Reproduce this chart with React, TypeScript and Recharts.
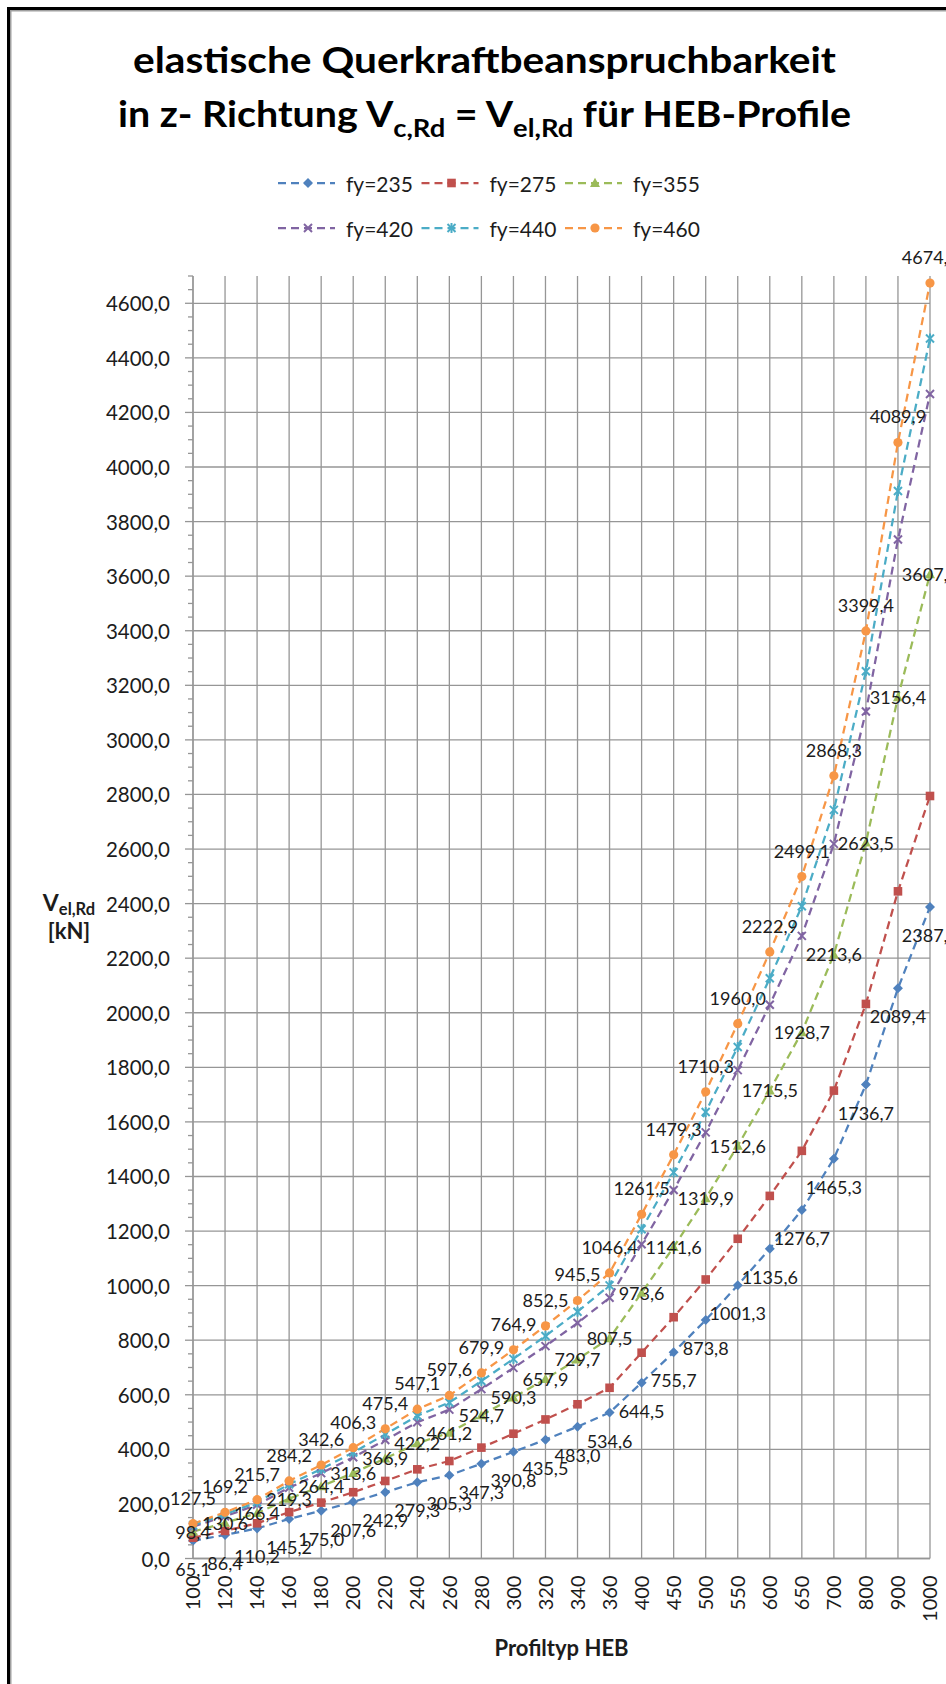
import React from 'react';
import { LineChart, Line, XAxis, YAxis, CartesianGrid, LabelList } from 'recharts';

// ---------- data ----------
const categories = ['100', '120', '140', '160', '180', '200', '220', '240', '260', '280', '300', '320', '340', '360', '400', '450', '500', '550', '600', '650', '700', '800', '900', '1000'];

const fy235 = [65.1, 86.4, 110.2, 145.2, 175.0, 207.6, 242.9, 279.3, 305.3, 347.3, 390.8, 435.5, 483.0, 534.6, 644.5, 755.7, 873.8, 1001.3, 1135.6, 1276.7, 1465.3, 1736.7, 2089.4, 2387.9];
const fy275 = [76.2, 101.1, 129.0, 169.9, 204.8, 242.9, 284.2, 326.8, 357.3, 406.4, 457.3, 509.6, 565.2, 625.6, 754.2, 884.3, 1022.5, 1171.7, 1328.9, 1494.0, 1714.7, 2032.3, 2445.0, 2794.4];
const fy355 = [98.4, 130.6, 166.4, 219.3, 264.4, 313.6, 366.9, 422.2, 461.2, 524.7, 590.3, 657.9, 729.7, 807.5, 973.6, 1141.6, 1319.9, 1512.6, 1715.5, 1928.7, 2213.6, 2623.5, 3156.4, 3607.3];
const fy420 = [116.3, 154.4, 197.0, 259.5, 312.8, 371.0, 434.1, 499.2, 545.6, 620.7, 698.5, 778.3, 863.2, 955.5, 1151.9, 1350.6, 1561.7, 1789.6, 2029.6, 2281.8, 2618.8, 3103.9, 3734.3, 4267.8];
const fy440 = [121.9, 161.8, 206.3, 271.9, 327.7, 388.7, 454.8, 522.9, 571.6, 650.3, 731.7, 815.4, 904.3, 1000.9, 1206.7, 1414.9, 1636.0, 1874.8, 2126.2, 2390.4, 2743.5, 3251.7, 3912.1, 4471.0];
const fy460 = [127.5, 169.2, 215.7, 284.2, 342.6, 406.3, 475.4, 547.1, 597.6, 679.9, 764.9, 852.5, 945.5, 1046.4, 1261.5, 1479.3, 1710.3, 1960.0, 2222.9, 2499.1, 2868.3, 3399.4, 4089.9, 4674.2];

const yMajorTicks = [0, 200, 400, 600, 800, 1000, 1200, 1400, 1600, 1800, 2000, 2200, 2400, 2600, 2800, 3000, 3200, 3400, 3600, 3800, 4000, 4200, 4400, 4600];
const yMax = 4700;
const yMinorStep = 50;

const seriesInfo = [
  { key: 'fy235', name: 'fy=235', color: '#4F81BD', shape: 'diamond' },
  { key: 'fy275', name: 'fy=275', color: '#C0504D', shape: 'square' },
  { key: 'fy355', name: 'fy=355', color: '#9BBB59', shape: 'triangle' },
  { key: 'fy420', name: 'fy=420', color: '#8064A2', shape: 'x' },
  { key: 'fy440', name: 'fy=440', color: '#4BACC6', shape: 'star' },
  { key: 'fy460', name: 'fy=460', color: '#F79646', shape: 'circle' },
];

// which series carry data labels, and where
const labelSeries = [
  { key: 'fy235', place: 'below' },
  { key: 'fy355', place: 'center' },
  { key: 'fy460', place: 'above' },
];

const data = categories.map((c, i) => ({
  cat: c,
  fy235: fy235[i],
  fy275: fy275[i],
  fy355: fy355[i],
  fy420: fy420[i],
  fy440: fy440[i],
  fy460: fy460[i],
}));

const yAllTicks: number[] = [];
for (let v = 0; v <= yMax; v += yMinorStep) yAllTicks.push(v);

// ---------- styles ----------
const FONT = "Lato, 'Open Sans', 'DejaVu Sans', sans-serif";
const TEXT = '#1c1c1c';
const GRID = '#969696';
const GRID_W = 1.3;
const DASH = '8 5';
const LINE_W = 2.25;

const fmt = (v: number) => Number(v).toFixed(1).replace('.', ',');

function Marker({ shape, color, cx, cy }: { shape: string; color: string; cx: number; cy: number }) {
  switch (shape) {
    case 'diamond':
      return <path d={`M${cx},${cy - 5}L${cx + 5},${cy}L${cx},${cy + 5}L${cx - 5},${cy}Z`} fill={color} />;
    case 'square':
      return <rect x={cx - 4.3} y={cy - 4.3} width={8.6} height={8.6} fill={color} />;
    case 'triangle':
      return <path d={`M${cx},${cy - 5.2}L${cx + 5},${cy + 4}L${cx - 5},${cy + 4}Z`} fill={color} />;
    case 'x':
      return (
        <g stroke={color} strokeWidth={2}>
          <line x1={cx - 4} y1={cy - 4} x2={cx + 4} y2={cy + 4} />
          <line x1={cx - 4} y1={cy + 4} x2={cx + 4} y2={cy - 4} />
        </g>
      );
    case 'star':
      return (
        <g stroke={color} strokeWidth={2}>
          <line x1={cx - 4} y1={cy - 4} x2={cx + 4} y2={cy + 4} />
          <line x1={cx - 4} y1={cy + 4} x2={cx + 4} y2={cy - 4} />
          <line x1={cx} y1={cy - 5} x2={cx} y2={cy + 5} />
        </g>
      );
    default:
      return <circle cx={cx} cy={cy} r={4.6} fill={color} />;
  }
}

const makeDot = (shape: string, color: string) => (props: any) => {
  const { cx, cy, index } = props;
  if (cx == null || cy == null || isNaN(cx) || isNaN(cy)) return <g key={`d-${index}`} />;
  return (
    <g key={`d-${index}`}>
      <Marker shape={shape} color={color} cx={cx} cy={cy} />
    </g>
  );
};

const makeLabel = (place: string) => (props: any) => {
  const x = props.x ?? props.viewBox?.x;
  const y = props.y ?? props.viewBox?.y;
  if (x == null || y == null || props.value == null) return null;
  const dy = place === 'above' ? -26 : place === 'below' ? 28 : 0;
  return (
    <text
      key={`l-${props.index}`}
      x={x}
      y={y + dy}
      textAnchor="middle"
      dominantBaseline="central"
      fontFamily={FONT}
      fontSize={18}
      fill={TEXT}
    >
      {fmt(props.value)}
    </text>
  );
};

const YTick = (props: any) => {
  const { x, y, payload } = props;
  const v = Number(payload.value);
  const major = yMajorTicks.includes(v);
  return (
    <g>
      <line x1={x - (major ? 8 : 5)} x2={x} y1={y} y2={y} stroke={GRID} strokeWidth={GRID_W} />
      {major && (
        <text x={x - 23} y={y} textAnchor="end" dominantBaseline="central" fontFamily={FONT} fontSize={20.5} fill={TEXT}>
          {fmt(v)}
        </text>
      )}
    </g>
  );
};

const XTick = (props: any) => {
  const { x, y, payload } = props;
  const ty = y + 17;
  return (
    <text
      x={x}
      y={ty}
      transform={`rotate(-90, ${x}, ${ty})`}
      textAnchor="end"
      dy="0.36em"
      fontFamily={FONT}
      fontSize={20}
      fill={TEXT}
    >
      {payload.value}
    </text>
  );
};

export default function App() {
  return (
    <div style={{ position: 'absolute', left: 0, top: 0, width: 946, height: 1684, overflow: 'hidden', background: '#fff' }}>
      <div
        style={{
          position: 'absolute',
          left: 7,
          top: 7,
          width: 1000,
          height: 1800,
          border: '3px solid #000',
          boxShadow: 'inset 0 0 0 1.5px #a0a0a0',
          boxSizing: 'border-box',
        }}
      />
      <div style={{ position: 'absolute', left: 0, top: 0 }}>
        <LineChart width={946} height={1684} data={data} margin={{ top: 276, right: 16, bottom: 0, left: 0 }}>
          <CartesianGrid stroke={GRID} strokeWidth={GRID_W} horizontalValues={yMajorTicks} />
          <XAxis
            dataKey="cat"
            interval={0}
            height={125.5}
            tickSize={0}
            tickMargin={0}
            tickLine={false}
            axisLine={{ stroke: GRID, strokeWidth: GRID_W }}
            tick={(p: any) => <XTick {...p} />}
          />
          <YAxis
            type="number"
            domain={[0, yMax]}
            ticks={yAllTicks}
            interval={0}
            width={193}
            tickSize={0}
            tickMargin={0}
            tickLine={false}
            axisLine={{ stroke: GRID, strokeWidth: GRID_W }}
            allowDataOverflow
            tick={(p: any) => <YTick {...p} />}
          />
          {seriesInfo.map((s) => (
            <Line
              key={s.key}
              type="linear"
              dataKey={s.key}
              name={s.name}
              stroke={s.color}
              strokeWidth={LINE_W}
              strokeDasharray={DASH}
              dot={makeDot(s.shape, s.color)}
              activeDot={false}
              isAnimationActive={false}
            />
          ))}
          {labelSeries.map((l) => (
            <Line
              key={`lab-${l.key}`}
              type="linear"
              dataKey={l.key}
              stroke="none"
              strokeWidth={0}
              dot={false}
              activeDot={false}
              legendType="none"
              isAnimationActive={false}
            >
              <LabelList dataKey={l.key} content={makeLabel(l.place)} />
            </Line>
          ))}
        </LineChart>
      </div>
      <svg width={946} height={1684} style={{ position: 'absolute', left: 0, top: 0, pointerEvents: 'none' }}>
        {/* title */}
        <text x={133} y={73} fontFamily={FONT} fontWeight={700} fontSize={36} fill="#000" textLength={703} lengthAdjust="spacingAndGlyphs">
          elastische Querkraftbeanspruchbarkeit
        </text>
        <text x={118} y={127} fontFamily={FONT} fontWeight={700} fontSize={36} fill="#000" textLength={733} lengthAdjust="spacingAndGlyphs">
          in z- Richtung V
          <tspan fontSize={25} dy={10}>c,Rd</tspan>
          <tspan fontSize={36} dy={-10}> = V</tspan>
          <tspan fontSize={25} dy={10}>el,Rd</tspan>
          <tspan fontSize={36} dy={-10}> für HEB-Profile</tspan>
        </text>
        {/* legend */}
        {seriesInfo.map((s, i) => {
          const col = i % 3;
          const row = Math.floor(i / 3);
          const x0 = 278 + col * 143.5;
          const y0 = 183 + row * 45;
          return (
            <g key={`leg-${s.key}`}>
              <line x1={x0} x2={x0 + 57} y1={y0} y2={y0} stroke={s.color} strokeWidth={LINE_W} strokeDasharray={DASH} />
              <Marker shape={s.shape} color={s.color} cx={x0 + 30} cy={y0} />
              <text x={x0 + 68} y={y0} dominantBaseline="central" fontFamily={FONT} fontSize={21} fill={TEXT}>
                {s.name}
              </text>
            </g>
          );
        })}
        {/* y axis title */}
        <text x={69} y={911} textAnchor="middle" fontFamily={FONT} fontWeight={700} fontSize={23} fill={TEXT}>
          V<tspan fontSize={16.5} dy={4}>el,Rd</tspan>
        </text>
        <text x={69} y={939} textAnchor="middle" fontFamily={FONT} fontWeight={700} fontSize={22} fill={TEXT}>
          [kN]
        </text>
        {/* x axis title */}
        <text x={561.5} y={1656} textAnchor="middle" fontFamily={FONT} fontWeight={700} fontSize={22} fill={TEXT}>
          Profiltyp HEB
        </text>
      </svg>
    </div>
  );
}
